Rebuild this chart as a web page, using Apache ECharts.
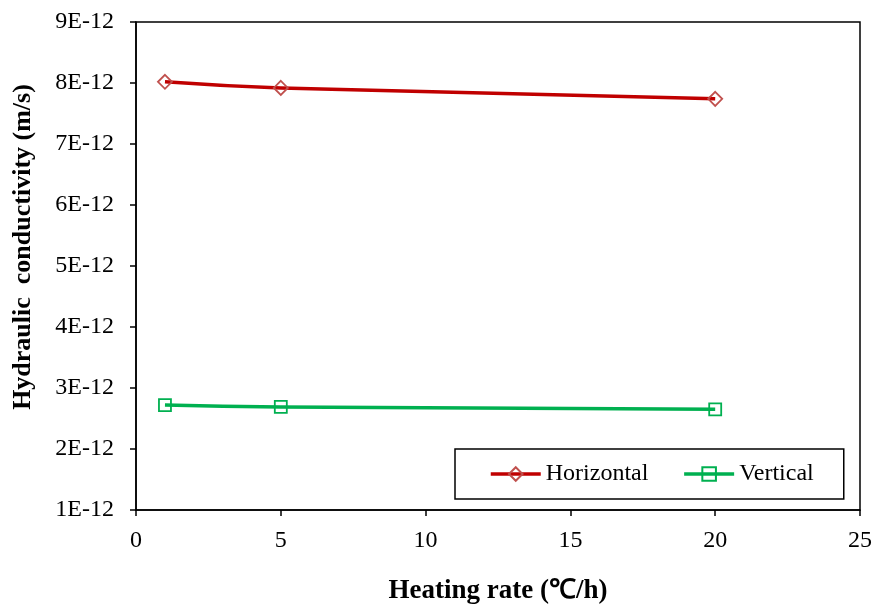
<!DOCTYPE html>
<html><head><meta charset="utf-8">
<script src="https://cdn.jsdelivr.net/npm/echarts@6/dist/echarts.min.js"></script>
<style>html,body{margin:0;padding:0;background:#fff}#c{width:875px;height:610px}</style>
</head><body><div id="c"></div>
<script>
const heatingRate = [1, 5, 20];
const horizontal = [8.02e-12, 7.92e-12, 7.74e-12];
const vertical = [2.72e-12, 2.69e-12, 2.65e-12];
const seriesNames = ['Horizontal', 'Vertical'];
const xTitle = 'Heating rate (\u2103/h)';
const yTitle = 'Hydraulic  conductivity (m/s)';

const font = 'Liberation Serif, Times New Roman, serif';
const chart = echarts.init(document.getElementById('c'));
chart.setOption({
  animation: false,
  backgroundColor: '#fff',
  textStyle: { fontFamily: font },
  grid: { left: 136, right: 14, top: 22, bottom: 98, show: true, borderColor: '#000', borderWidth: 1.5 },
  legend: {
    left: 455, top: 449, padding: [13, 30, 13, 34], itemGap: 34,
    itemWidth: 50, itemHeight: 17,
    borderColor: '#000', borderWidth: 1.5, backgroundColor: '#fff',
    lineStyle: { width: 3.5 },
    textStyle: { fontSize: 24, color: '#000', fontFamily: font },
    data: seriesNames
  },
  xAxis: {
    type: 'value', min: 0, max: 25, interval: 5,
    name: xTitle, nameLocation: 'middle', nameGap: 68,
    nameTextStyle: { fontSize: 27, fontWeight: 'bold', color: '#000', fontFamily: font },
    axisLine: { lineStyle: { color: '#000', width: 1.5 } },
    axisTick: { length: 6, lineStyle: { color: '#000', width: 1.5 } },
    axisLabel: { fontSize: 24, color: '#000', margin: 19, fontFamily: font },
    splitLine: { show: false }
  },
  yAxis: {
    type: 'value', min: 1e-12, max: 9e-12, interval: 1e-12,
    name: yTitle, nameLocation: 'middle', nameGap: 100,
    nameTextStyle: { fontSize: 26, fontWeight: 'bold', color: '#000', fontFamily: font, padding: [0, 0, 0, 38] },
    axisLine: { show: true, lineStyle: { color: '#000', width: 1.5 } },
    axisTick: { show: true, length: 6, lineStyle: { color: '#000', width: 1.5 } },
    axisLabel: { fontSize: 24, color: '#000', margin: 22, fontFamily: font,
      formatter: v => Math.round(v * 1e12) + 'E-12' },
    splitLine: { show: false }
  },
  series: [
    {
      name: seriesNames[0], type: 'line', smooth: true,
      data: heatingRate.map((x, i) => [x, horizontal[i]]),
      lineStyle: { color: '#c00000', width: 3.5 },
      symbol: 'diamond', symbolSize: 14,
      itemStyle: { color: 'rgba(255,255,255,0)', borderColor: '#c0504d', borderWidth: 1.8 }
    },
    {
      name: seriesNames[1], type: 'line', smooth: true,
      data: heatingRate.map((x, i) => [x, vertical[i]]),
      lineStyle: { color: '#00b050', width: 3.5 },
      symbol: 'rect', symbolSize: 12,
      itemStyle: { color: 'rgba(255,255,255,0)', borderColor: '#00b050', borderWidth: 1.8 }
    }
  ]
});
</script></body></html>
